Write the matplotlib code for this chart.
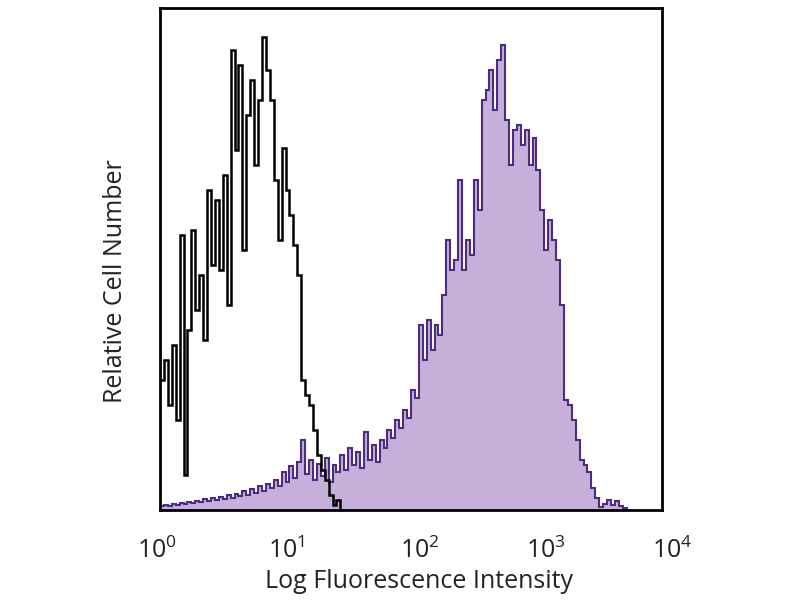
import numpy as np
import matplotlib
matplotlib.use("Agg")
import matplotlib.pyplot as plt
import matplotlib.transforms as mtransforms

plt.rcParams['font.family'] = ['Open Sans', 'DejaVu Sans']
plt.rcParams['mathtext.fontset'] = 'custom'
plt.rcParams['mathtext.rm'] = 'Open Sans'
plt.rcParams['mathtext.it'] = 'Open Sans'

# channels: 32 per decade, from 10^0
CH_PER_DECADE = 32

# isotype control (black outline), counts per channel
isotype = [130, 150, 105, 165, 90, 275, 35, 180, 280, 200,
           235, 170, 320, 245, 310, 240, 335, 205, 460, 360,
           445, 260, 395, 430, 345, 410, 473, 440, 410, 330,
           270, 362, 320, 295, 265, 235, 130, 115, 105, 80,
           55, 40, 30, 15, 5, 10, 0]

# stained sample (purple filled), counts per channel
stained = [4, 5, 4, 6, 5, 7, 6, 8, 7, 9,
           8, 11, 9, 12, 10, 13, 11, 15, 12, 16,
           14, 19, 15, 21, 17, 24, 19, 26, 22, 30,
           24, 38, 28, 44, 32, 48, 70, 36, 50, 30,
           46, 34, 52, 28, 45, 38, 55, 40, 62, 45,
           58, 42, 78, 50, 65, 48, 70, 62, 80, 72,
           90, 82, 100, 92, 120, 112, 185, 150, 190, 160,
           185, 175, 215, 270, 240, 250, 330, 240, 270, 255,
           330, 300, 410, 420, 440, 400, 450, 465, 390, 345,
           380, 385, 365, 380, 345, 372, 340, 300, 260, 290,
           270, 250, 205, 110, 105, 90, 70, 50, 45, 38,
           22, 12, 3, 6, 10, 5, 9, 4, 2, 0]

xticks = [1, 10, 100, 1000, 10000]
xtick_labels = [r'$10^{0}$', r'$10^{1}$', r'$10^{2}$', r'$10^{3}$', r'$10^{4}$']
label_shift_px = [-3, 1, 9, 9, 10]

fig = plt.figure(figsize=(8, 6), dpi=100)
ax = fig.add_axes([160/800, 90/600, 502/800, 502/600])

e_st = 10 ** (np.arange(len(stained) + 1) / CH_PER_DECADE)
e_iso = 10 ** (np.arange(len(isotype) + 1) / CH_PER_DECADE)

ax.stairs(stained, e_st, fill=True, color='#c6b0da', zorder=1)
ax.stairs(stained, e_st, fill=False, color='#4b2c82', lw=1.5, baseline=None, zorder=2)
ax.stairs(isotype, e_iso, fill=False, color='black', lw=1.8, baseline=None, zorder=3)

ax.set_xscale('log')
ax.set_xlim(1, 10000)
ax.set_ylim(0, 502)
ax.set_yticks([])
ax.set_xticks(xticks)
ax.set_xticklabels(xtick_labels, fontsize=18, color='#222222')
ax.minorticks_off()
ax.tick_params(axis='x', length=0, pad=20)
for lab, dx in zip(ax.get_xticklabels(), label_shift_px):
    lab.set_transform(lab.get_transform() + mtransforms.ScaledTranslation(dx/100, 0, fig.dpi_scale_trans))
for s in ax.spines.values():
    s.set_linewidth(2)
    s.set_color('black')

fig.text(419/800, 1 - 582/600, 'Log Fluorescence Intensity', ha='center', va='center', fontsize=18, color='#222222')
fig.text(116/800, 1 - 281/600, 'Relative Cell Number', ha='center', va='center', rotation=90, fontsize=18, color='#222222')

fig.savefig('out.png', dpi=100)
